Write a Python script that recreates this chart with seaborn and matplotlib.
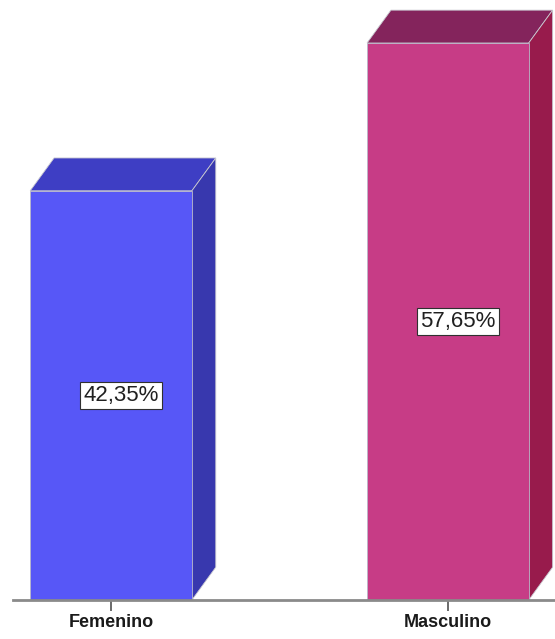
import matplotlib
matplotlib.use("Agg")
import matplotlib.pyplot as plt
import seaborn as sns
import pandas as pd

# Distribution by sex (percentages)
categories = ["Femenino", "Masculino"]
values = [42.35, 57.65]
labels = ["42,35%", "57,65%"]

front_colors = ["#5757F7", "#C73C86"]
top_colors = ["#3E3EC4", "#84245C"]
side_colors = ["#3838AE", "#981B4C"]

df = pd.DataFrame({"sexo": categories, "pct": values})

sns.set_theme(style="white")
plt.rcParams["font.family"] = ["Liberation Sans Narrow", "Liberation Sans", "DejaVu Sans"]

fig = plt.figure(figsize=(5.55, 6.39), dpi=100)
ax = fig.add_axes([0.0234, 0.061, 0.9766, 0.939])

bar_w = 0.48
sns.barplot(data=df, x="sexo", y="pct", hue="sexo", palette=front_colors,
            width=bar_w, legend=False, ax=ax, saturation=1,
            edgecolor="#B8B8C8", linewidth=0.6, zorder=3)

ax.set_xlim(-0.291, 1.318)
ax.set_ylim(0, 62.1)

# extruded depth of each bar (x in category units, y in percent units)
dx, dy = 0.071, 3.4

for i, patch in enumerate(ax.patches):
    x0 = patch.get_x()
    x1 = x0 + patch.get_width()
    h = patch.get_height()
    top = [(x0, h), (x0 + dx, h + dy), (x1 + dx, h + dy), (x1, h)]
    side = [(x1, 0), (x1 + dx, dy), (x1 + dx, h + dy), (x1, h)]
    ax.add_patch(plt.Polygon(top, closed=True, facecolor=top_colors[i],
                             edgecolor="#C8C8D0", linewidth=0.6,
                             clip_on=False, zorder=2))
    ax.add_patch(plt.Polygon(side, closed=True, facecolor=side_colors[i],
                             edgecolor="#C8C8D0", linewidth=0.6,
                             clip_on=False, zorder=2))
    ax.text(x0 + patch.get_width() / 2 + 0.03, h / 2, labels[i],
            ha="center", va="center", fontsize=16, color="#202020",
            zorder=5,
            bbox=dict(boxstyle="square,pad=0.15", facecolor="white",
                      edgecolor="#303030", linewidth=0.8))

for s in ["top", "left", "right"]:
    ax.spines[s].set_visible(False)
ax.spines["bottom"].set_color("#8A8A8A")
ax.spines["bottom"].set_linewidth(2)
ax.spines["bottom"].set_zorder(4)

ax.set_yticks([])
ax.set_xlabel("")
ax.set_ylabel("")
ax.tick_params(axis="x", bottom=True, length=8, width=1.2, color="#505050",
               pad=2, labelsize=13, labelcolor="#1A1A1A")
for t in ax.get_xticklabels():
    t.set_fontweight("bold")

fig.savefig("out.png", dpi=100, facecolor="white")
